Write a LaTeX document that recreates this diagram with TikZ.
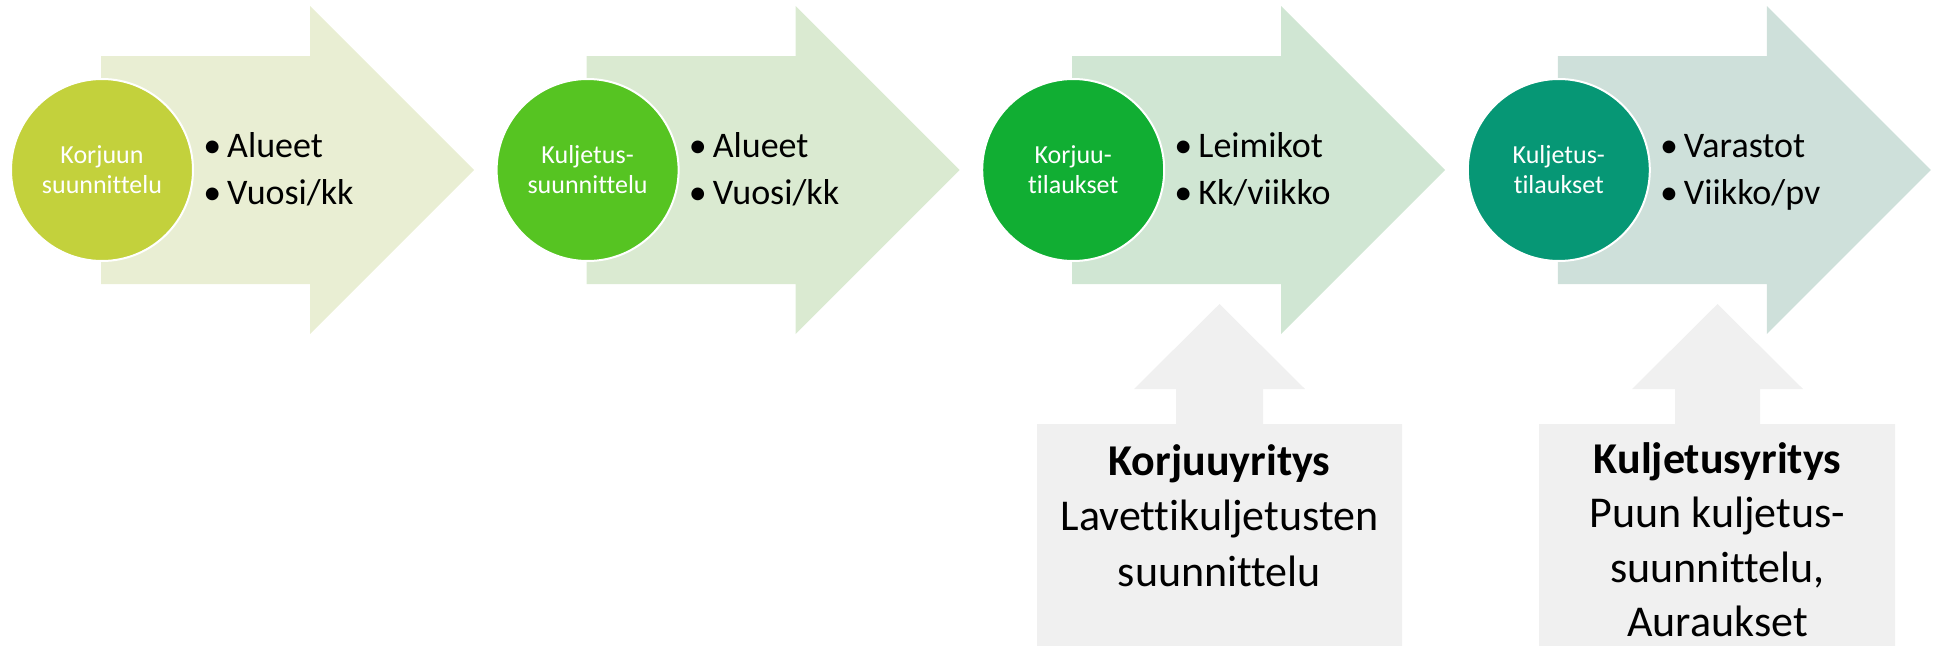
\documentclass[tikz,border=0pt]{standalone}
\usepackage{fontspec}
\setmainfont[Ligatures={NoCommon}]{Carlito}
\definecolor{aA}{HTML}{E9EED3}
\definecolor{aB}{HTML}{DAEAD1}
\definecolor{aC}{HTML}{D0E6D3}
\definecolor{aD}{HTML}{CEE0DA}
\definecolor{cA}{HTML}{C3D13C}
\definecolor{cB}{HTML}{56C422}
\definecolor{cC}{HTML}{11AE33}
\definecolor{cD}{HTML}{069775}
\definecolor{grayfill}{HTML}{F0F0F0}
\tikzset{
  circ/.style={circle, draw=white, line width=1.5pt, minimum size=136.5pt, inner sep=0pt,
    text=white, align=center, font=\fontsize{19.5}{22.5}\selectfont},
  bullettext/.style={anchor=base west, inner sep=0pt, font=\fontsize{27}{33}\selectfont},
  boxtext/.style={anchor=base, inner sep=0pt, font=\fontsize{33}{40}\selectfont},
}
\begin{document}
\begin{tikzpicture}[x=0.75pt,y=-0.75pt]
\useasboundingbox (0,0) rectangle (1938,646);
% process arrows
\foreach \i/\ac in {0/aA,1/aB,2/aC,3/aD}{
  \pgfmathsetmacro{\dx}{485.6*\i}
  \fill[\ac] ({\dx+101},56) -- ({\dx+310},56) -- ({\dx+310},6) -- ({\dx+474},170)
     -- ({\dx+310},334) -- ({\dx+310},284) -- ({\dx+101},284) -- cycle;
}
% up arrows with boxes
\fill[grayfill] (1037,646) -- (1037,424) -- (1176,424) -- (1176,389) -- (1134,389)
   -- (1219.5,304) -- (1305,389) -- (1263,389) -- (1263,424) -- (1402,424) -- (1402,646) -- cycle;
\fill[grayfill] (1539,646) -- (1539,424) -- (1675,424) -- (1675,389) -- (1632,389)
   -- (1717.5,304) -- (1803,389) -- (1760,389) -- (1760,424) -- (1895,424) -- (1895,646) -- cycle;
% circles
\node[circ, fill=cA] (c1) at (102,170) {Korjuun\\suunnittelu};
\node[circ, fill=cB] (c2) at (587.6,170) {Kuljetus-\\suunnittelu};
\node[circ, fill=cC] (c3) at (1073.2,170) {Korjuu-\\tilaukset};
\node[circ, fill=cD] (c4) at (1558.8,170) {Kuljetus-\\tilaukset};
% bullets
\node[bullettext] (b1a) at (203,157) {•\hspace{4.5pt}Alueet};
\node[bullettext] (b1b) at (203,204) {•\hspace{4.5pt}Vuosi/kk};
\node[bullettext] (b2a) at (688.6,157) {•\hspace{4.5pt}Alueet};
\node[bullettext] (b2b) at (688.6,204) {•\hspace{4.5pt}Vuosi/kk};
\node[bullettext] (b3a) at (1174.2,157) {•\hspace{4.5pt}Leimikot};
\node[bullettext] (b3b) at (1174.2,204) {•\hspace{4.5pt}Kk/viikko};
\node[bullettext] (b4a) at (1659.8,157) {•\hspace{4.5pt}Varastot};
\node[bullettext] (b4b) at (1659.8,204) {•\hspace{4.5pt}Viikko/pv};
% box texts
\node[boxtext] (k1) at (1219.5,475) {\bfseries Korjuuyritys};
\node[boxtext] (k2) at (1219.5,530.5) {Lavettikuljetusten};
\node[boxtext] (k3) at (1219.5,586) {suunnittelu};
\node[boxtext] (t1) at (1717.5,473) {\bfseries Kuljetusyritys};
\node[boxtext] (t2) at (1717.5,527.5) {Puun kuljetus-};
\node[boxtext] (t3) at (1717.5,582) {suunnittelu,};
\node[boxtext] (t4) at (1717.5,636) {Auraukset};
\end{tikzpicture}
\end{document}
